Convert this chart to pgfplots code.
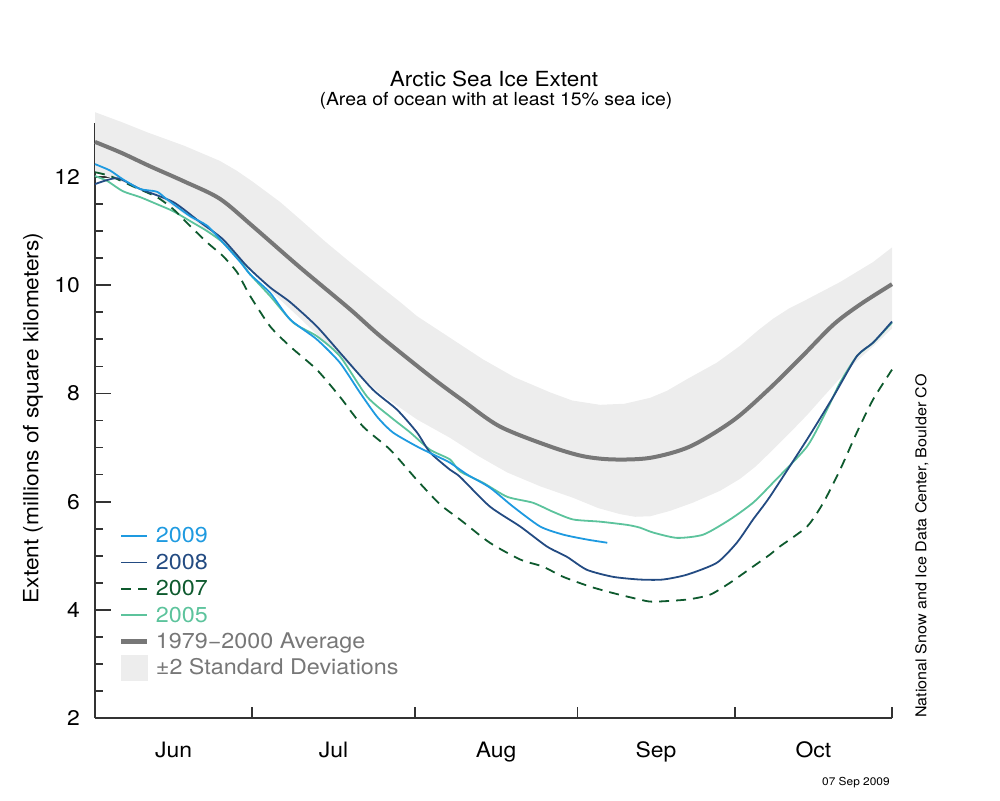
\documentclass[border=0pt]{standalone}
\usepackage{fontspec}
\setmainfont[FakeStretch=1.08]{TeX Gyre Heros}
\usepackage{pgfplots}
\pgfplotsset{compat=1.18}
\definecolor{c2009}{HTML}{1E9AE0}
\definecolor{c2008}{HTML}{234B82}
\definecolor{c2007}{HTML}{0E5A2E}
\definecolor{c2005}{HTML}{5CC39C}
\definecolor{avgc}{HTML}{777777}
\definecolor{bandc}{HTML}{EDEDED}
\definecolor{axisc}{HTML}{333333}
\begin{document}
\begin{tikzpicture}
\path[use as bounding box] (0,0) rectangle (500pt,400pt);
\begin{axis}[
  at={(47.5pt,41pt)}, anchor=south west,
  scale only axis, width=398.5pt, height=297.5pt,
  xmin=0, xmax=152, ymin=2, ymax=13,
  clip=false,
  axis x line*=bottom, axis y line*=left,
  axis line style={-, line width=1pt, color=axisc},
  tick align=inside,
  ytick={2,4,...,12},
  minor ytick={2.5,3,...,13},
  major tick length=8pt, minor tick length=4pt,
  every tick/.style={axisc, line width=0.9pt},
  xtick={15,45.5,76.5,107,137},
  xticklabels={Jun,Jul,Aug,Sep,Oct},
  xtick style={draw=none},
  xticklabel style={anchor=base, yshift=-19.5pt},
  yticklabel style={xshift=-4pt},
  tick label style={font=\fontsize{10.6}{12}\selectfont},
  /pgf/number format/assume math mode=true,
  legend image code/.code={\draw[#1] (0pt,0pt) -- (13pt,0pt);},
  legend style={draw=none, fill=none, at={(0.030,0.328)}, anchor=north west,
    inner sep=0pt, outer sep=0pt, row sep=0pt, column sep=3pt,
    font=\fontsize{10.8}{12}\selectfont,
    nodes={inner sep=0pt, text height=10pt, text depth=3.2pt}},
  legend cell align=left,
  legend style={cells={anchor=west}},
]
% +/- 2 standard deviation band (upper edge, then lower edge backwards)
\addplot[fill=bandc, draw=none, forget plot] coordinates {
(0,13.2)(5,13.02)(9.9,12.83)(17,12.58)(23.8,12.3)(27,12.12)(30,11.92)(35.3,11.54)(39.1,11.22)(44,10.8)(48.6,10.43)(54.4,9.98)(58.2,9.69)(61.4,9.43)(67.7,9.03)(74.0,8.63)(80,8.3)(86.8,8.02)(91,7.87)(96.3,7.79)(101,7.81)(105.9,7.92)(109.1,8.05)(113,8.27)(118.6,8.57)(123.0,8.88)(126.5,9.17)(129.3,9.38)(132.5,9.58)(135.8,9.74)(142.1,10.06)(148.4,10.43)(152,10.7)
(152,9.2)(148.4,8.87)(145.3,8.6)(142.1,8.28)(139,7.95)(135.8,7.6)(132.5,7.27)(129.3,6.96)(126,6.65)(123.0,6.42)(119.2,6.2)(114,5.98)(109.7,5.83)(105.9,5.73)(103,5.72)(100.1,5.77)(96,5.88)(91.2,6.07)(85,6.28)(78.6,6.54)(73,6.85)(67.7,7.18)(61.4,7.52)(55,7.95)(48.6,8.5)(44,8.93)(39,9.4)(34,9.85)(29.6,10.3)(25,10.72)(20,11.12)(15,11.45)(10.5,11.72)(5,11.92)(0,12.08)} -- cycle;
% 1979-2000 average
\addplot[avgc, line width=2pt, smooth, tension=0.5, forget plot] coordinates {
(0,12.65)(5,12.45)(10.5,12.2)(17,11.92)(23.8,11.6)(30.1,11.09)(39.1,10.33)(48.6,9.56)(54.4,9.06)(63.9,8.32)(70,7.88)(77.2,7.39)(86.8,7.02)(93.1,6.84)(98.8,6.78)(105.9,6.81)(113.5,7.02)(121.7,7.5)(128.2,8.05)(134.5,8.65)(140.8,9.27)(146,9.65)(152,10.02)};
% 2005
\addplot[c2005, line width=0.9pt, smooth, tension=0.4, forget plot] coordinates {
(0,12.02)(2.3,11.93)(5.3,11.74)(8.6,11.63)(11.8,11.5)(14.9,11.37)(18.1,11.19)(21.4,11.0)(24.4,10.79)(27.7,10.45)(29.6,10.2)(33.4,9.8)(37.8,9.31)(42.3,9.06)(46.7,8.69)(51.9,7.94)(56.3,7.57)(60.1,7.28)(63.9,6.96)(67.7,6.78)(69.6,6.56)(74.0,6.35)(78.6,6.09)(83.5,5.98)(87.4,5.81)(91.2,5.67)(96.3,5.63)(101.5,5.57)(103.9,5.52)(106.4,5.43)(111.0,5.33)(116.0,5.39)(121.1,5.67)(125.5,5.98)(129.3,6.35)(135.8,7.02)(139.6,7.7)(142.1,8.2)(145.3,8.69)(148.4,8.94)(152,9.31)};
% 2007
\addplot[c2007, line width=0.9pt, dash pattern=on 5pt off 3.5pt, smooth, tension=0.4, forget plot] coordinates {
(0,12.09)(2.9,12.02)(7.2,11.83)(11.8,11.63)(14.9,11.41)(18.1,11.1)(21.4,10.79)(24.4,10.54)(27.1,10.24)(29.6,9.8)(33.4,9.24)(37.2,8.87)(42.3,8.44)(46.7,7.94)(51.1,7.39)(56.3,6.96)(61.4,6.4)(65.8,5.95)(69.6,5.67)(75.3,5.24)(81.1,4.93)(85.4,4.8)(89.3,4.61)(94.4,4.43)(98.8,4.31)(103.9,4.19)(106.4,4.15)(112.9,4.19)(117.3,4.28)(121.1,4.5)(125.5,4.8)(128.7,5.02)(130.6,5.17)(135.8,5.54)(138.9,5.98)(142.1,6.59)(145.3,7.28)(148.4,7.89)(152,8.44)};
% 2008
\addplot[c2008, line width=0.9pt, smooth, tension=0.4, forget plot] coordinates {
(0,11.87)(4.2,11.98)(8.6,11.78)(14.9,11.54)(20.0,11.17)(24.4,10.85)(29.0,10.35)(33.4,9.96)(37.2,9.69)(42.3,9.24)(47.3,8.69)(53.0,8.07)(57.6,7.7)(61.4,7.28)(63.9,6.91)(67.7,6.59)(69.6,6.46)(75.3,5.91)(81.1,5.54)(86.2,5.17)(90.0,4.98)(93.8,4.74)(98.8,4.61)(103.9,4.56)(108.3,4.56)(112.9,4.65)(118.6,4.87)(122.4,5.24)(125.5,5.67)(128.7,6.09)(135.8,7.15)(140.8,7.94)(145.3,8.69)(148.4,8.94)(152,9.33)};
% 2009
\addplot[c2009, line width=0.9pt, smooth, tension=0.4, forget plot] coordinates {
(0,12.24)(2.9,12.12)(5.3,11.96)(8.6,11.78)(11.8,11.73)(13.7,11.59)(18.1,11.28)(21.4,11.1)(24.4,10.79)(27.7,10.43)(29.6,10.2)(33.4,9.86)(37.2,9.37)(42.3,9.0)(46.7,8.57)(50.5,8.02)(53.8,7.57)(56.8,7.28)(61.4,7.02)(65.2,6.84)(67.7,6.72)(71.0,6.5)(75.3,6.26)(79.7,5.91)(84.9,5.54)(89.3,5.39)(93.8,5.3)(97.7,5.24)};
% month boundary ticks
\draw[axisc, line width=0.9pt] (axis cs:30,2) -- ++(0pt,5.5pt);
\draw[axisc, line width=0.9pt] (axis cs:61,2) -- ++(0pt,5.5pt);
\draw[axisc, line width=0.9pt] (axis cs:92,2) -- ++(0pt,5.5pt);
\draw[axisc, line width=0.9pt] (axis cs:122,2) -- ++(0pt,5.5pt);
\draw[axisc, line width=0.9pt] (axis cs:152,2) -- ++(0pt,5.5pt);
% legend
\addlegendimage{c2009, line width=0.9pt}
\addlegendentry{\textcolor{c2009}{2009}}
\addlegendimage{c2008, line width=0.9pt}
\addlegendentry{\textcolor{c2008}{2008}}
\addlegendimage{c2007, line width=0.9pt, dash pattern=on 5pt off 3.5pt}
\addlegendentry{\textcolor{c2007}{2007}}
\addlegendimage{c2005, line width=0.9pt}
\addlegendentry{\textcolor{c2005}{2005}}
\addlegendimage{avgc, line width=2.5pt}
\addlegendentry{\textcolor{avgc}{1979−2000 Average}}
\addlegendimage{legend image code/.code={\fill[bandc] (0pt,-6.25pt) rectangle (13pt,6.25pt);}}
\addlegendentry{\textcolor{avgc}{±2 Standard Deviations}}
\end{axis}
\node[font=\fontsize{10.4}{12}\selectfont, anchor=base] at (247pt,356.7pt) {Arctic Sea Ice Extent};
\node[font=\fontsize{9}{11}\selectfont, anchor=base] at (248pt,347.5pt) {(Area of ocean with at least 15\% sea ice)};
\node[rotate=90, font=\fontsize{10.5}{12}\selectfont, anchor=center] at (16.5pt,191pt) {Extent (millions of square kilometers)};
\node[rotate=90, anchor=west, font=\fontsize{7.45}{9}\selectfont, inner sep=0pt] at (461pt,41pt) {National Snow and Ice Data Center, Boulder CO};
\node[anchor=base east, font=\fontsize{5.5}{6.5}\selectfont, inner sep=0pt] at (445pt,7.5pt) {07 Sep 2009};
\end{tikzpicture}
\end{document}
